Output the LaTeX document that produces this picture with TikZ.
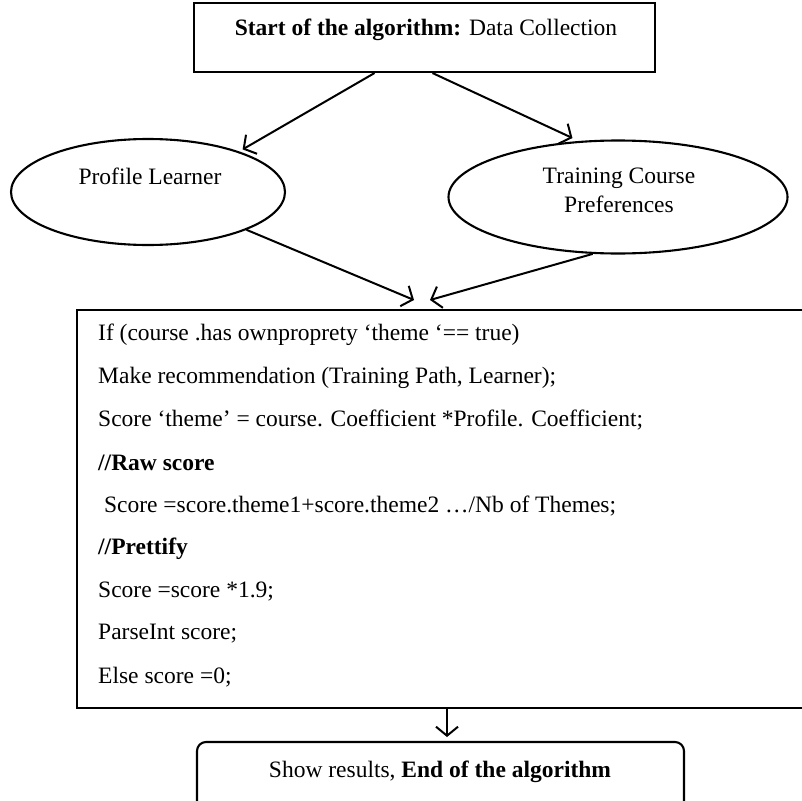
\documentclass[tikz,border=0pt]{standalone}
\usepackage{fontspec}
\setmainfont{Liberation Serif}
\usetikzlibrary{arrows.meta,calc,shapes.geometric}
\tikzset{
  box/.style={draw,line width=2.1pt,inner sep=0pt},
  oval/.style={draw,ellipse,line width=2.1pt,inner sep=0pt},
  arr/.style={line width=2pt,-{Straight Barb[length=9pt,width=22pt,line width=2pt]}},
  codeline/.style={anchor=west,inner sep=0pt},
  txt/.style={font=\fontsize{23.5}{29}\selectfont}
}
\begin{document}
\begin{tikzpicture}[x=1pt,y=-1pt,txt]
\useasboundingbox (0,0) rectangle (802,800);
\node[box,minimum width=461pt,minimum height=69pt] (start) at (424.5,37.5) {};
\node[inner sep=0pt] (starttxt) at (426,30) {\textbf{Start of the algorithm:} Data Collection};
\node[oval,minimum width=274pt,minimum height=106pt] (prof) at (148,192) {};
\node[inner sep=0pt] (proftxt) at (150,176) {Profile Learner};
\node[oval,minimum width=339pt,minimum height=113pt] (pref) at (618,197) {};
\node[inner sep=0pt,align=center] (preftxt) at (619,190) {Training Course\\Preferences};
\node[box,line width=2.6pt,minimum width=733pt,minimum height=398pt] (code) at (443.5,509) {};
\node[codeline] (l1) at (98,335) {If (course .has ownproprety ‘theme ‘== true)};
\node[codeline] (l2) at (98,378) {Make recommendation (Training Path, Learner);};
\node[codeline] (l3) at (98,420) {Score ‘theme’ = course. Coefficient *Profile. Coefficient;};
\node[codeline] (l4) at (98,463) {\textbf{//Raw score}};
\node[codeline] (l5) at (98,506) {\ Score =score.theme1+score.theme2 …/Nb of Themes;};
\node[codeline] (l6) at (98,549) {\textbf{//Prettify}};
\node[codeline] (l7) at (98,592) {Score =score *1.9;};
\node[codeline] (l8) at (98,634) {ParseInt score;};
\node[codeline] (l9) at (98,677) {Else score =0;};
\node[box,rounded corners=9pt,minimum width=487pt,minimum height=80pt] (end) at (440.5,782) {};
\node[inner sep=0pt] (endtxt) at (440,772) {Show results, \textbf{End of the algorithm}};
\coordinate (t3) at (414,300);
\coordinate (t4) at (430,300);
\coordinate (t5) at (447,737);
\draw[arr,shorten >=4pt] ($(start.south)+(-50,0)$) -- (prof.24);
\draw[arr,shorten >=7pt] ($(start.south)+(8,0)$) -- (pref.125);
\draw[arr] (prof.-21) -- (t3);
\draw[arr] (pref.-114) -- (t4);
\draw[arr] (code.south -| t5) -- (t5);
\end{tikzpicture}
\end{document}
